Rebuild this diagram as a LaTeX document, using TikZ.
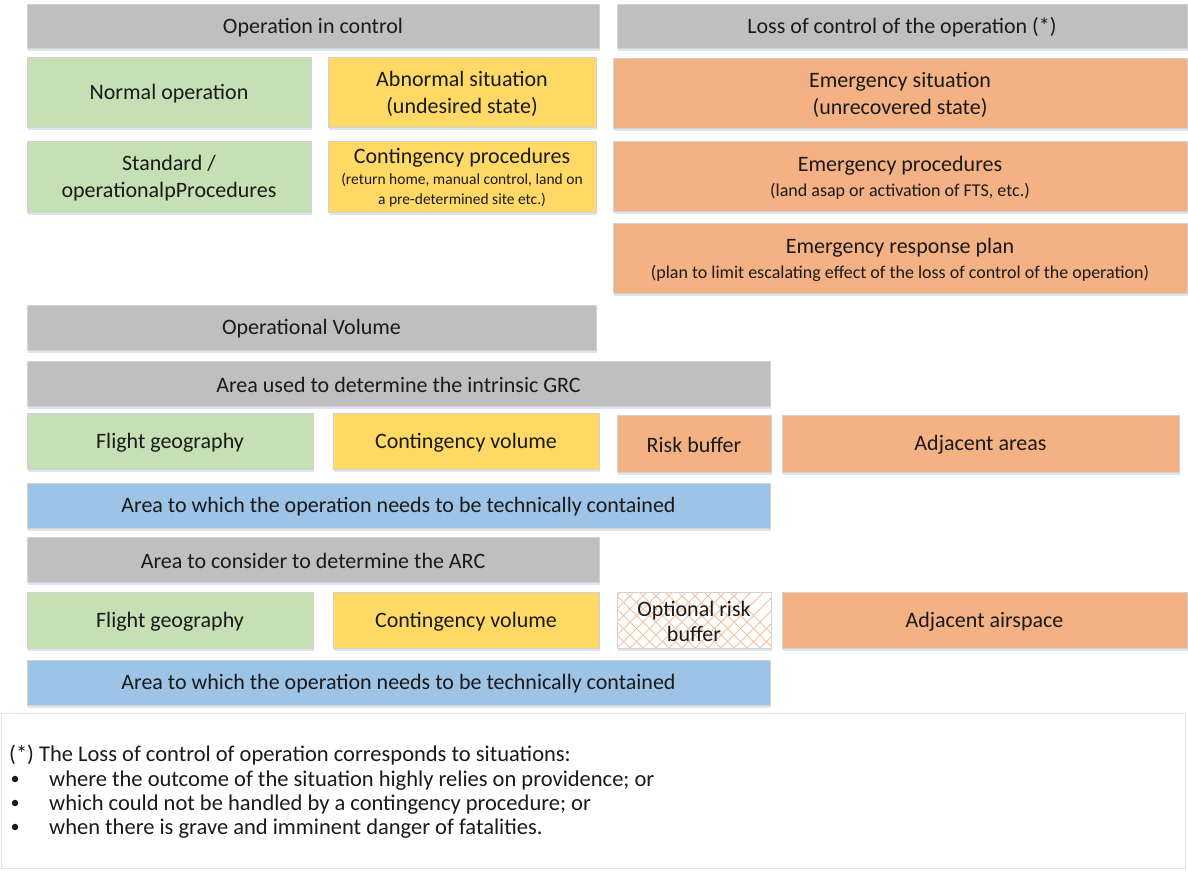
\documentclass[tikz,border=0pt]{standalone}
\usepackage{fontspec}
\setmainfont{Carlito}
\usetikzlibrary{shadows}
\definecolor{cgray}{HTML}{BFBFBF}
\definecolor{cgreen}{HTML}{C5E0B4}
\definecolor{cyellow}{HTML}{FFD966}
\definecolor{corange}{HTML}{F4B183}
\definecolor{cblue}{HTML}{9DC3E6}
\definecolor{cborder}{HTML}{D2D2D2}
\definecolor{cshadow}{HTML}{DCE5F1}
\definecolor{ctext}{HTML}{1A1A1A}
\definecolor{cframe}{HTML}{DDE3EE}
\newcommand\mybox[7]{%
  \node[bx,#6,anchor=north west,minimum width={(#4-#2)*1pt},minimum height={(#5-#3)*1pt}] (#1) at (#2,#3) {};
  \node[txt] (#1-t) at ([yshift=-1.5pt]#1.center) {#7};}
\newcommand\smalltxt[1]{{\fontsize{15.5}{19.5}\selectfont #1}}
\newcommand\midtxt[1]{{\fontsize{18}{22}\selectfont #1}}
\tikzset{
  bx/.style={draw=cborder, line width=0.6pt, inner sep=0pt, outer sep=0pt,
    general shadow={fill=cshadow, shadow yshift=-2.5pt, shadow xshift=0.8pt}},
  txt/.style={inner sep=0pt, align=center, text=ctext, font=\fontsize{22}{27}\selectfont},
  gr/.style={fill=cgray},
  gn/.style={fill=cgreen},
  ye/.style={fill=cyellow},
  og/.style={fill=corange},
  bl/.style={fill=cblue},
  hatchbox/.style={fill=white, path picture={
      \foreach \i in {-78,-65,...,170}{
        \draw[corange!80, line width=0.9pt] ([xshift=\i pt]path picture bounding box.south west) -- ++(80pt,80pt);
        \draw[corange!80, line width=0.9pt] ([xshift=\i pt]path picture bounding box.south west) -- ++(-80pt,80pt);
      }}},
  foot/.style={anchor=mid west, inner sep=0pt, yshift=-6.5pt, text=ctext, font=\fontsize{22.5}{27}\selectfont},
  bul/.style={circle, fill=ctext, inner sep=0pt, minimum size=6.5pt},
}
\begin{document}
\begin{tikzpicture}[x=1pt,y=-1pt]
\useasboundingbox[fill=white] (0,0) rectangle (1188,870);
\mybox{oic}{27}{4}{599}{48}{gr}{Operation in control}
\mybox{loc}{617}{4}{1187}{48}{gr}{Loss of control of the operation (*)}
\mybox{normal}{27}{57}{311}{127}{gn}{Normal operation}
\mybox{abnormal}{328}{57}{596}{127}{ye}{Abnormal situation\\(undesired state)}
\mybox{emsit}{613}{58}{1187}{128}{og}{Emergency situation\\(unrecovered state)}
\mybox{standard}{27}{141}{311}{212}{gn}{Standard /\\operationalpProcedures}
\mybox{contproc}{328}{141}{596}{212}{ye}{Contingency procedures\\[-6pt]\smalltxt{(return home, manual control, land on}\\[-7pt]\smalltxt{a pre-determined site etc.)}}
\mybox{emproc}{613}{141}{1187}{211}{og}{Emergency procedures\\[-2pt]\midtxt{(land asap or activation of FTS, etc.)}}
\mybox{erp}{613}{223}{1187}{293}{og}{Emergency response plan\\[-2pt]\midtxt{(plan to limit escalating effect of the loss of control of the operation)}}
\mybox{opvol}{27}{305}{596}{350}{gr}{Operational Volume}
\mybox{grc}{27}{361}{770}{406}{gr}{Area used to determine the intrinsic GRC}
\mybox{fg1}{27}{413}{313}{469}{gn}{Flight geography}
\mybox{cv1}{333}{413}{599}{469}{ye}{Contingency volume}
\mybox{rb}{617}{415}{771}{472}{og}{Risk buffer}
\mybox{adj}{782}{415}{1179}{472}{og}{Adjacent areas}
\mybox{blue1}{27}{483}{770}{528}{bl}{Area to which the operation needs to be technically contained}
\mybox{arc}{27}{537}{599}{582}{gr}{Area to consider to determine the ARC}
\mybox{fg2}{27}{592}{313}{648}{gn}{Flight geography}
\mybox{cv2}{333}{592}{599}{648}{ye}{Contingency volume}
\mybox{orb}{617}{592}{771}{648}{hatchbox}{Optional risk\\[-2pt]buffer}
\mybox{adjair}{782}{592}{1187}{648}{og}{Adjacent airspace}
\mybox{blue2}{27}{660}{770}{705}{bl}{Area to which the operation needs to be technically contained}
\node[draw=cframe, line width=1pt, fill=white, anchor=north west, inner sep=0pt, minimum width=1184pt, minimum height=155pt] (fnbox) at (1,713) {};
\node[foot] (f0) at (9,753) {(*) The Loss of control of operation corresponds to situations:};
\node[bul] (b1) at (15,779) {};
\node[foot] (f1) at (49,778) {where the outcome of the situation highly relies on providence; or};
\node[bul] (b2) at (15,803) {};
\node[foot] (f2) at (49,802) {which could not be handled by a contingency procedure; or};
\node[bul] (b3) at (15,827) {};
\node[foot] (f3) at (49,826) {when there is grave and imminent danger of fatalities.};
\end{tikzpicture}
\end{document}
